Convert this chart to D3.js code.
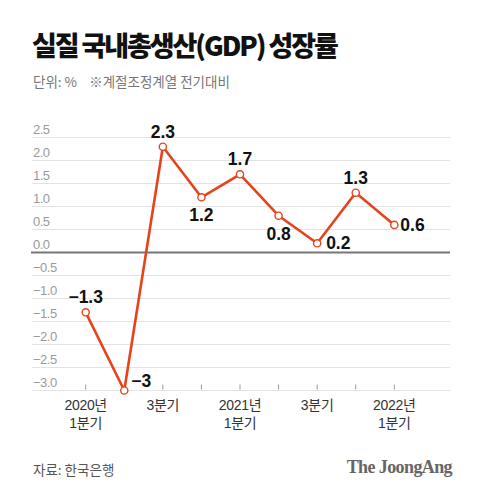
<!DOCTYPE html>
<html><head><meta charset="utf-8">
<script src="https://cdn.jsdelivr.net/npm/d3@7"></script>
<style>
html,body{margin:0;padding:0;background:#fff;}
svg{display:block;}
</style></head>
<body>
<script>
// ---- data ----
const quarters = ["2020Q1","2020Q2","2020Q3","2020Q4","2021Q1","2021Q2","2021Q3","2021Q4","2022Q1"];
const growth = [-1.3, -3.0, 2.3, 1.2, 1.7, 0.8, 0.2, 1.3, 0.6];
const valueLabels = ["\u22121.3", "\u22123", "2.3", "1.2", "1.7", "0.8", "0.2", "1.3", "0.6"];
const xTickLabels = [["2020년","1분기"], [], ["3분기"], [], ["2021년","1분기"], [], ["3분기"], [], ["2022년","1분기"]];
const yTicks = [-3.0, -2.5, -2.0, -1.5, -1.0, -0.5, 0.0, 0.5, 1.0, 1.5, 2.0, 2.5];
const title = "실질 국내총생산(GDP) 성장률";
const subtitle = "단위: %    ※계절조정계열 전기대비";
const source = "자료: 한국은행";
const brand = "The JoongAng";

// ---- drawing ----
const W = 480, H = 497;
const sans = "'Liberation Sans', 'Noto Sans CJK KR', sans-serif";
const kr = "'Noto Sans CJK KR', 'Liberation Sans', sans-serif";
const svg = d3.select("body").append("svg").attr("width", W).attr("height", H);

const x = d3.scalePoint().domain(quarters).range([85.7, 394.3]);
const y = d3.scaleLinear().domain([-3, 2.5]).range([390.5, 137.5]);

// title
svg.append("text").attr("x", 32).attr("y", 56)
  .attr("font-family", kr).attr("font-weight", 900).attr("font-size", 27)
  .attr("letter-spacing", -2.1).attr("fill", "#111").text(title);
svg.append("text").attr("x", 33).attr("y", 87)
  .attr("font-family", kr).attr("font-size", 13.5).attr("fill", "#777")
  .attr("xml:space", "preserve").style("white-space", "pre").text(subtitle);

// gridlines
const grid = svg.append("g");
grid.selectAll("line").data(yTicks.filter(d => d !== 0)).join("line")
  .attr("x1", 32).attr("x2", 450)
  .attr("y1", d => y(d)).attr("y2", d => y(d))
  .attr("stroke", "#e3e3e3").attr("stroke-width", 1);
grid.selectAll("text").data(yTicks).join("text")
  .attr("x", 33).attr("y", d => y(d) - 4)
  .attr("font-family", sans).attr("font-size", 13).attr("fill", "#9a9a9a")
  .attr("letter-spacing", -0.5)
  .text(d => d3.format(".1f")(d));

// x tick marks
svg.append("g").selectAll("line").data(quarters).join("line")
  .attr("x1", d => x(d)).attr("x2", d => x(d))
  .attr("y1", 384.5).attr("y2", 389.5)
  .attr("stroke", "#999").attr("stroke-width", 1);

// zero line
svg.append("line").attr("x1", 31).attr("x2", 450)
  .attr("y1", y(0)).attr("y2", y(0))
  .attr("stroke", "#777").attr("stroke-width", 2);

// x labels
const xl = svg.append("g");
quarters.forEach((q, i) => {
  xTickLabels[i].forEach((t, j) => {
    xl.append("text").attr("x", x(q)).attr("y", 410 + j * 18)
      .attr("text-anchor", "middle")
      .attr("font-family", sans).attr("font-size", 14).attr("fill", "#333")
      .attr("letter-spacing", -0.3).text(t);
  });
});

// line
const lineGen = d3.line().x((d, i) => x(quarters[i])).y(d => y(d));
svg.append("path").datum(growth).attr("d", lineGen)
  .attr("fill", "none").attr("stroke", "#e5431c").attr("stroke-width", 2.6)
  .attr("stroke-linejoin", "round");

svg.append("g").selectAll("circle").data(growth).join("circle")
  .attr("cx", (d, i) => x(quarters[i])).attr("cy", d => y(d)).attr("r", 3.6)
  .attr("fill", "#fff").attr("stroke", "#e5431c").attr("stroke-width", 1.4);

// value labels
const placement = ["above", "upright", "above", "below", "above", "below", "right", "above", "rightmid"];
svg.append("g").selectAll("text").data(growth).join("text")
  .attr("x", (d, i) => {
    const p = placement[i], cx = x(quarters[i]);
    if (p === "upright") return cx + 7;
    if (p === "right") return cx + 9;
    if (p === "rightmid") return cx + 6;
    return cx;
  })
  .attr("y", (d, i) => {
    const p = placement[i], cy = y(d);
    if (p === "above") return cy - 9;
    if (p === "below") return cy + 24;
    if (p === "upright") return cy - 3.5;
    if (p === "right") return cy + 6;
    return cy + 6.5;
  })
  .attr("text-anchor", (d, i) => placement[i].startsWith("right") || placement[i] === "upright" ? "start" : "middle")
  .attr("font-family", sans).attr("font-weight", 700).attr("font-size", 17.5)
  .attr("fill", "#111").text((d, i) => valueLabels[i]);

// footer
svg.append("text").attr("x", 33).attr("y", 475)
  .attr("font-family", kr).attr("font-size", 13.5).attr("fill", "#555").text(source);
svg.append("text").attr("x", 452).attr("y", 473).attr("text-anchor", "end")
  .attr("font-family", "'Liberation Serif', 'DejaVu Serif', serif").attr("font-weight", 700)
  .attr("font-size", 18).attr("letter-spacing", -0.6).attr("fill", "#666").text(brand);
</script>
</body></html>
